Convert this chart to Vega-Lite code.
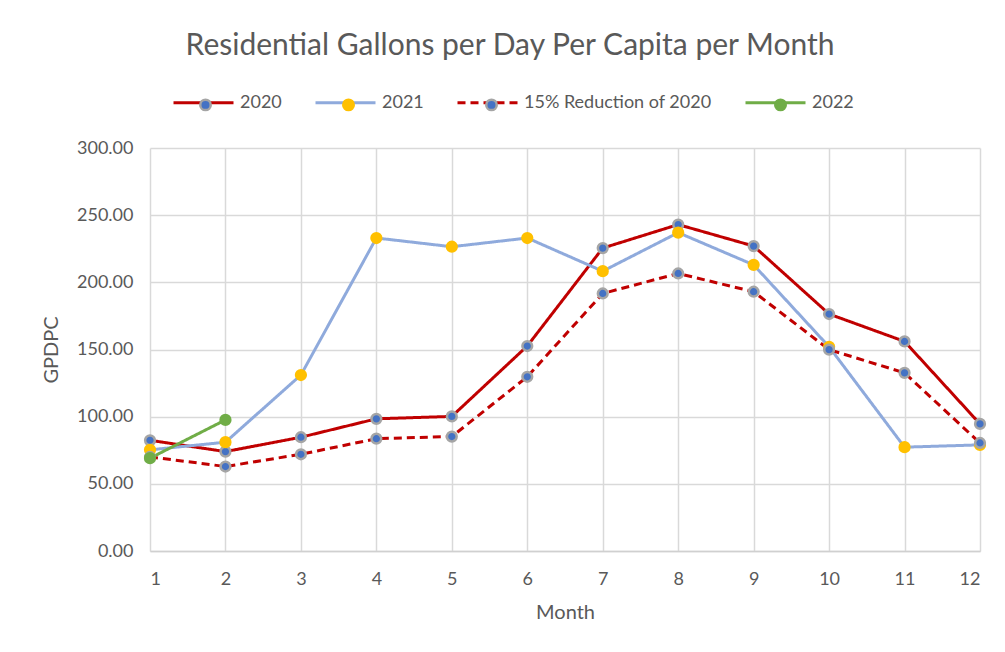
{
  "$schema": "https://vega.github.io/schema/vega-lite/v6.json",
  "width": 830,
  "height": 403,
  "autosize": "none",
  "padding": {"left": 150, "top": 148, "right": 25, "bottom": 101},
  "background": "white",
  "config": {"font": "Lato", "view": {"stroke": null}},
  "title": {
    "text": "Residential Gallons per Day Per Capita per Month",
    "font": "Lato",
    "fontSize": 30,
    "fontWeight": "normal",
    "color": "#595959",
    "anchor": "middle",
    "frame": "group",
    "dx": -55,
    "offset": 10
  },
  "data": {
    "values": [
      {"series": "2020", "month": 1, "gpdpc": 82.4},
      {"series": "2020", "month": 2, "gpdpc": 74.0},
      {"series": "2020", "month": 3, "gpdpc": 84.7},
      {"series": "2020", "month": 4, "gpdpc": 98.4},
      {"series": "2020", "month": 5, "gpdpc": 100.2},
      {"series": "2020", "month": 6, "gpdpc": 152.6},
      {"series": "2020", "month": 7, "gpdpc": 225.5},
      {"series": "2020", "month": 8, "gpdpc": 243.0},
      {"series": "2020", "month": 9, "gpdpc": 227.0},
      {"series": "2020", "month": 10, "gpdpc": 176.4},
      {"series": "2020", "month": 11, "gpdpc": 156.0},
      {"series": "2020", "month": 12, "gpdpc": 94.6},
      {"series": "2021", "month": 1, "gpdpc": 75.3},
      {"series": "2021", "month": 2, "gpdpc": 81.0},
      {"series": "2021", "month": 3, "gpdpc": 131.0},
      {"series": "2021", "month": 4, "gpdpc": 233.0},
      {"series": "2021", "month": 5, "gpdpc": 226.5},
      {"series": "2021", "month": 6, "gpdpc": 233.0},
      {"series": "2021", "month": 7, "gpdpc": 208.3},
      {"series": "2021", "month": 8, "gpdpc": 237.0},
      {"series": "2021", "month": 9, "gpdpc": 213.0},
      {"series": "2021", "month": 10, "gpdpc": 152.0},
      {"series": "2021", "month": 11, "gpdpc": 77.3},
      {"series": "2021", "month": 12, "gpdpc": 79.0},
      {"series": "15% Reduction of 2020", "month": 1, "gpdpc": 70.0},
      {"series": "15% Reduction of 2020", "month": 2, "gpdpc": 62.9},
      {"series": "15% Reduction of 2020", "month": 3, "gpdpc": 72.0},
      {"series": "15% Reduction of 2020", "month": 4, "gpdpc": 83.6},
      {"series": "15% Reduction of 2020", "month": 5, "gpdpc": 85.2},
      {"series": "15% Reduction of 2020", "month": 6, "gpdpc": 129.7},
      {"series": "15% Reduction of 2020", "month": 7, "gpdpc": 191.7},
      {"series": "15% Reduction of 2020", "month": 8, "gpdpc": 206.6},
      {"series": "15% Reduction of 2020", "month": 9, "gpdpc": 193.0},
      {"series": "15% Reduction of 2020", "month": 10, "gpdpc": 149.9},
      {"series": "15% Reduction of 2020", "month": 11, "gpdpc": 132.6},
      {"series": "15% Reduction of 2020", "month": 12, "gpdpc": 80.4},
      {"series": "2022", "month": 1, "gpdpc": 69.1},
      {"series": "2022", "month": 2, "gpdpc": 97.6}
    ]
  },
  "encoding": {
    "x": {
      "field": "month",
      "type": "quantitative",
      "scale": {"domain": [1, 12], "nice": false, "zero": false},
      "axis": {
        "values": [1, 2, 3, 4, 5, 6, 7, 8, 9, 10, 11, 12],
        "title": "Month",
        "grid": true,
        "gridColor": "#d9d9d9",
        "gridWidth": 1.5,
        "domainColor": "#d0d0d0",
        "domainWidth": 1.5,
        "ticks": false,
        "labelFont": "Lato",
        "labelFontSize": 18,
        "labelColor": "#595959",
        "labelPadding": 19,
        "titleFont": "Lato",
        "titleFontSize": 20,
        "titleFontWeight": "normal",
        "titleColor": "#595959",
        "titlePadding": 14
      }
    },
    "y": {
      "field": "gpdpc",
      "type": "quantitative",
      "scale": {"domain": [0, 300], "nice": false},
      "axis": {
        "values": [0, 50, 100, 150, 200, 250, 300],
        "format": ".2f",
        "title": "GPDPC",
        "grid": true,
        "gridColor": "#d9d9d9",
        "gridWidth": 1.5,
        "domain": false,
        "ticks": false,
        "labelFont": "Lato",
        "labelFontSize": 18,
        "labelColor": "#595959",
        "labelPadding": 17,
        "titleFont": "Lato",
        "titleFontSize": 20,
        "titleFontWeight": "normal",
        "titleColor": "#595959",
        "titlePadding": 15
      }
    }
  },
  "resolve": {"scale": {"stroke": "independent", "fill": "independent", "strokeDash": "independent"}},
  "layer": [
    {
      "mark": {"type": "line", "strokeWidth": 3, "strokeCap": "butt"},
      "encoding": {
        "stroke": {
          "field": "series",
          "type": "nominal",
          "scale": {
            "domain": ["2020", "2021", "15% Reduction of 2020", "2022"],
            "range": ["#C00000", "#8FAADC", "#C00000", "#70AD47"]
          },
          "legend": {
            "orient": "none",
            "legendX": 22,
            "legendY": -77,
            "direction": "horizontal",
            "columns": 4,
            "title": null,
            "symbolType": "stroke",
            "symbolSize": 3600,
            "symbolStrokeWidth": 3,
            "labelFont": "Lato",
            "labelFontSize": 18,
            "labelColor": "#595959",
            "labelOffset": 5,
            "labelLimit": 300,
            "columnPadding": 27,
            "padding": 0
          }
        },
        "strokeDash": {
          "field": "series",
          "type": "nominal",
          "scale": {
            "domain": ["2020", "2021", "15% Reduction of 2020", "2022"],
            "range": [[1, 0], [1, 0], [8, 5], [1, 0]]
          }
        }
      }
    },
    {
      "mark": {"type": "point", "filled": true, "opacity": 1, "strokeWidth": 2.5, "size": 95},
      "encoding": {
        "fill": {
          "field": "series",
          "type": "nominal",
          "scale": {
            "domain": ["2020", "2021", "15% Reduction of 2020", "2022"],
            "range": ["#4472C4", "#FFC000", "#4472C4", "#70AD47"]
          },
          "legend": {
            "orient": "none",
            "legendX": 46.5,
            "legendY": -52.5,
            "direction": "horizontal",
            "columns": 4,
            "title": null,
            "symbolType": "circle",
            "symbolSize": 110,
            "symbolStrokeWidth": 2.5,
            "labelFont": "Lato",
            "labelFontSize": 18,
            "labelOpacity": 0,
            "labelOffset": 54,
            "labelLimit": 300,
            "columnPadding": 27,
            "padding": 0
          }
        },
        "stroke": {
          "field": "series",
          "type": "nominal",
          "scale": {
            "domain": ["2020", "2021", "15% Reduction of 2020", "2022"],
            "range": ["#a5a5a5", "#FFC000", "#a5a5a5", "#70AD47"]
          },
          "legend": {
            "orient": "none",
            "legendX": 46.5,
            "legendY": -52.5,
            "direction": "horizontal",
            "columns": 4,
            "title": null,
            "symbolType": "circle",
            "symbolSize": 110,
            "symbolStrokeWidth": 2.5,
            "labelFont": "Lato",
            "labelFontSize": 18,
            "labelOpacity": 0,
            "labelOffset": 54,
            "labelLimit": 300,
            "columnPadding": 27,
            "padding": 0
          }
        }
      }
    }
  ]
}
